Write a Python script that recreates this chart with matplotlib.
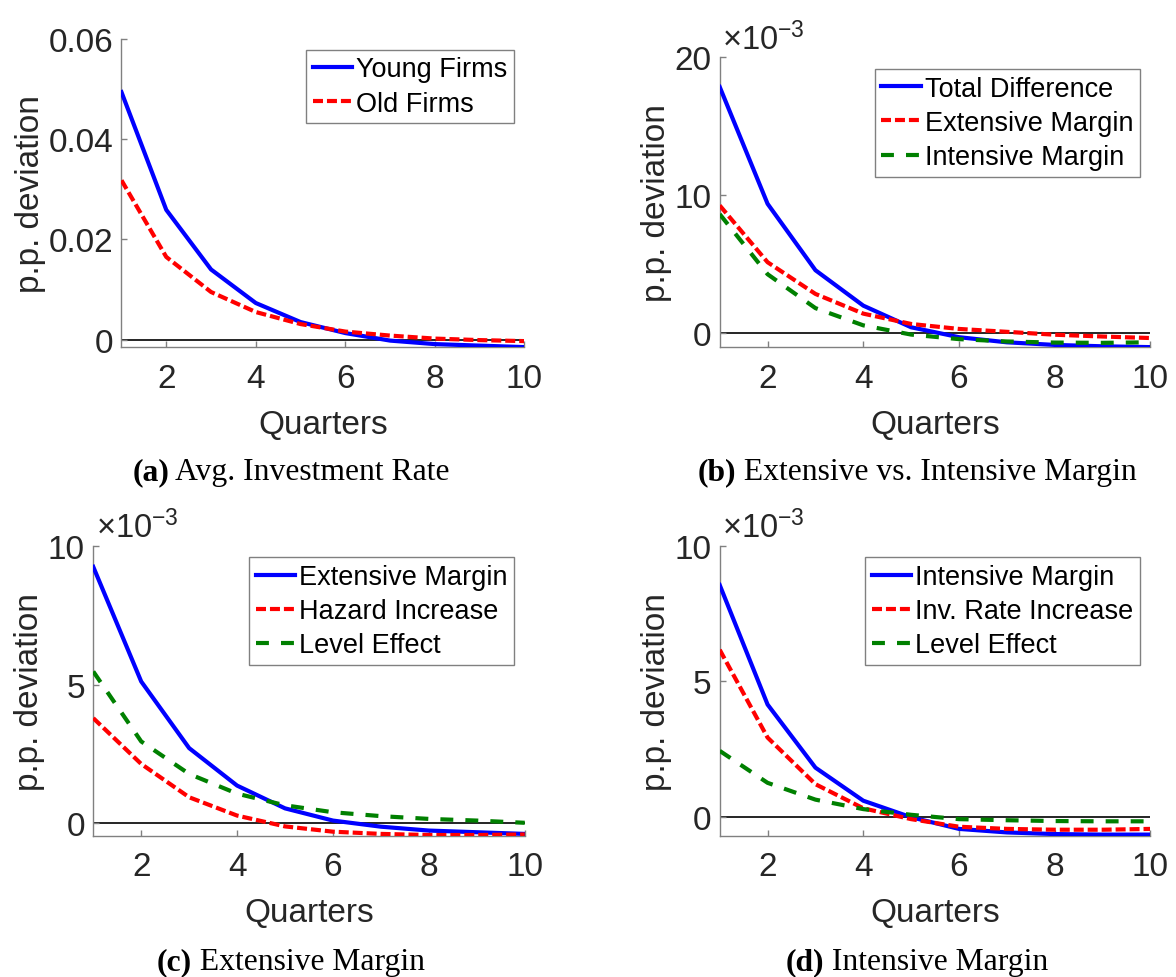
import numpy as np
import matplotlib
matplotlib.use('Agg')
import matplotlib.pyplot as plt

plt.rcParams['font.family'] = ['Liberation Sans', 'DejaVu Sans']
plt.rcParams['mathtext.fontset'] = 'custom'
plt.rcParams['mathtext.rm'] = 'Liberation Sans'

quarters = [1, 2, 3, 4, 5, 6, 7, 8, 9, 10]
x_ticks = [2, 4, 6, 8, 10]

# (a) avg investment rate
young_firms = [0.0494, 0.0259, 0.0140, 0.0073, 0.0035, 0.0013, -0.0002, -0.0009, -0.0012, -0.0015]
old_firms = [0.0318, 0.0165, 0.0095, 0.0055, 0.0031, 0.0016, 0.0008, 0.0002, -0.0001, -0.0003]
yticks_a = [0, 0.02, 0.04, 0.06]
yticklabels_a = ['0', '0.02', '0.04', '0.06']

# (b) extensive vs intensive, in 1e-3
total_diff = [17.85, 9.37, 4.55, 1.98, 0.41, -0.31, -0.68, -0.87, -0.97, -1.03]
ext_margin_b = [9.25, 5.13, 2.83, 1.40, 0.65, 0.29, 0.08, -0.13, -0.26, -0.37]
int_margin_b = [8.62, 4.26, 1.80, 0.55, -0.12, -0.45, -0.62, -0.70, -0.72, -0.68]
yticks_b = [0, 10, 20]

# (c) extensive margin, in 1e-3
ext_margin_c = [9.24, 5.11, 2.71, 1.36, 0.54, 0.10, -0.12, -0.26, -0.32, -0.38]
hazard_inc = [3.79, 2.14, 0.94, 0.28, -0.11, -0.30, -0.38, -0.42, -0.42, -0.40]
level_c = [5.47, 2.95, 1.78, 1.07, 0.65, 0.40, 0.26, 0.16, 0.10, 0.02]

# (d) intensive margin, in 1e-3
int_margin_d = [8.55, 4.14, 1.81, 0.59, -0.02, -0.45, -0.58, -0.64, -0.66, -0.66]
inv_rate_inc = [6.16, 2.92, 1.20, 0.31, -0.09, -0.37, -0.45, -0.48, -0.48, -0.45]
level_d = [2.43, 1.25, 0.63, 0.28, 0.07, -0.09, -0.13, -0.16, -0.17, -0.17]
yticks_cd = [0, 5, 10]

BLUE = '#0000FF'
RED = '#FF0000'
GREEN = '#008000'
AXGREY = '#808080'
TXT = '#262626'
LW = 3.0

W, H = 1176, 978
fig = plt.figure(figsize=(W / 100, H / 100), dpi=100)


def style_axes(ax, ylim, yticks, yticklabels=None):
    ax.set_xlim(1, 10)
    ax.set_ylim(*ylim)
    ax.set_xticks(x_ticks)
    ax.set_yticks(yticks)
    if yticklabels is not None:
        ax.set_yticklabels(yticklabels)
    for s in ['top', 'right']:
        ax.spines[s].set_visible(False)
    for s in ['left', 'bottom']:
        ax.spines[s].set_color(AXGREY)
        ax.spines[s].set_linewidth(1.0)
    ax.tick_params(axis='both', direction='in', length=4, width=1, color=AXGREY,
                   labelsize=24, labelcolor=TXT)
    ax.tick_params(axis='x', pad=11)
    ax.tick_params(axis='y', pad=6)
    ax.axhline(0, color='k', lw=1.2, zorder=1)
    ax.set_xlabel('Quarters', fontsize=24, color=TXT, labelpad=11)
    ax.set_ylabel('p.p. deviation', fontsize=24, color=TXT, labelpad=2)


def add_lines(ax, series, anchor):
    styles = [dict(color=BLUE, ls='-'),
              dict(color=RED, dashes=(2.4, 0.95)),
              dict(color=GREEN, dashes=(3.1, 2.9))]
    for (vals, lab), st in zip(series, styles):
        ax.plot(quarters, vals, lw=LW, label=lab, zorder=3, **st)
    leg = ax.legend(loc='upper right', bbox_to_anchor=anchor, borderaxespad=0,
                    fontsize=19.5, handlelength=1.45, handletextpad=0.15,
                    labelspacing=0.3, borderpad=0.25, fancybox=False,
                    framealpha=1, edgecolor=AXGREY)
    leg.get_frame().set_linewidth(1.0)


def offset_label(ax):
    ax.annotate(r'$\mathregular{\times10^{-3}}$', xy=(0, 1), xycoords='axes fraction',
                xytext=(2, 6), textcoords='offset points', ha='left', va='baseline',
                fontsize=23.5, color=TXT)


def caption(xc, yb, tag, text):
    r = fig.canvas.get_renderer()
    kw = dict(fontsize=22.8, family='Liberation Serif', va='baseline', color='k')
    t1 = fig.text(0, yb / H, tag, fontweight='bold', **kw)
    t2 = fig.text(0, yb / H, ' ' + text, **kw)
    w1 = t1.get_window_extent(r).width
    w2 = t2.get_window_extent(r).width
    x0 = xc - (w1 + w2) / 2
    t1.set_x(x0 / W)
    t2.set_x((x0 + w1) / W)


# (a)
ax_a = fig.add_axes([0.1033, 0.6439, 0.3427, 0.3152])
add_lines(ax_a, [(young_firms, 'Young Firms'), (old_firms, 'Old Firms')], (0.9747, 0.9653))
style_axes(ax_a, (-0.00153, 0.06), yticks_a, yticklabels_a)

# (b)
ax_b = fig.add_axes([0.612, 0.6439, 0.3663, 0.2965])
add_lines(ax_b, [(total_diff, 'Total Difference'), (ext_margin_b, 'Extensive Margin'),
                 (int_margin_b, 'Intensive Margin')], (0.9756, 0.9597))
style_axes(ax_b, (-1.04, 20), yticks_b)
offset_label(ax_b)

# (c)
ax_c = fig.add_axes([0.0793, 0.1445, 0.3669, 0.2965])
add_lines(ax_c, [(ext_margin_c, 'Extensive Margin'), (hazard_inc, 'Hazard Increase'),
                 (level_c, 'Level Effect')], (0.9757, 0.96))
style_axes(ax_c, (-0.444, 10), yticks_cd)
offset_label(ax_c)

# (d)
ax_d = fig.add_axes([0.612, 0.1445, 0.3663, 0.2965])
add_lines(ax_d, [(int_margin_d, 'Intensive Margin'), (inv_rate_inc, 'Inv. Rate Increase'),
                 (level_d, 'Level Effect')], (0.9756, 0.96))
style_axes(ax_d, (-0.70, 10), yticks_cd)
offset_label(ax_d)

caption(291, H - 480, '(a)', 'Avg. Investment Rate')
caption(917, H - 480, '(b)', 'Extensive vs. Intensive Margin')
caption(291, H - 970, '(c)', 'Extensive Margin')
caption(917, H - 970, '(d)', 'Intensive Margin')

fig.savefig('out.png', dpi=100)
